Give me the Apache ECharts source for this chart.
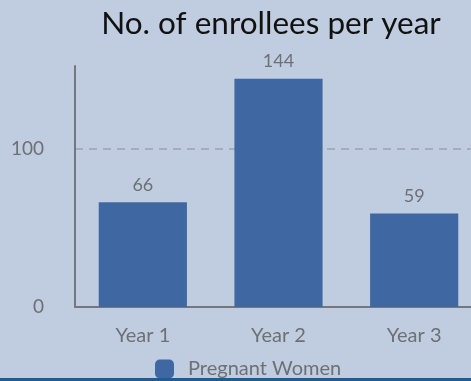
<!DOCTYPE html>
<html><head><meta charset="utf-8">
<style>html,body{margin:0;padding:0;background:#c0cde0;}#c{width:471px;height:381px;}</style>
<script src="https://cdn.jsdelivr.net/npm/echarts@6/dist/echarts.min.js"></script>
</head><body><div id="c"></div>
<script>
const categories = ['Year 1', 'Year 2', 'Year 3'];
const pregnantWomen = [66, 144, 59];
const seriesName = 'Pregnant Women';
const titleText = 'No. of enrollees per year';

const chart = echarts.init(document.getElementById('c'), null, {renderer: 'canvas'});
const gray = '#6d7074';
chart.setOption({
  backgroundColor: '#c0cde0',
  animation: false,
  textStyle: {fontFamily: 'Lato'},
  title: {
    text: titleText, left: 266, top: 3, textAlign: 'center',
    textStyle: {fontFamily: 'Lato', fontSize: 31.5, fontWeight: 'normal', color: '#111'}
  },
  legend: {
    data: [seriesName], left: 155, top: 359, itemWidth: 19, itemHeight: 19, itemGap: 10,
    padding: 0, icon: 'roundRect',
    formatter: function (n) { return '{s| }{t|' + n + '}'; },
    textStyle: {fontFamily: 'Lato', fontSize: 20, color: gray,
      rich: {s: {width: 9, fontSize: 20}, t: {fontFamily: 'Lato', fontSize: 20, color: gray}}}
  },
  grid: {left: 75, width: 407, top: 66, bottom: 74, containLabel: false, outerBoundsMode: 'none'},
  xAxis: {
    type: 'category', data: categories,
    axisLine: {lineStyle: {color: '#74787c', width: 2}},
    axisTick: {show: false},
    axisLabel: {fontFamily: 'Lato', fontSize: 20, color: gray, margin: 19}
  },
  yAxis: {
    type: 'value', min: 0, max: 152, interval: 100,
    axisLine: {show: true, lineStyle: {color: '#74787c', width: 2}},
    axisTick: {show: false},
    axisLabel: {fontFamily: 'Lato', fontSize: 19, color: gray, margin: 31, showMaxLabel: false},
    splitLine: {show: true, lineStyle: {color: ['rgba(0,0,0,0)', '#9aa2ad', 'rgba(0,0,0,0)'], type: [8, 6], width: 1.5}}
  },
  series: [{
    name: seriesName, type: 'bar', data: pregnantWomen, barWidth: '65%',
    itemStyle: {color: '#3f68a3'},
    label: {show: true, position: 'top', distance: 8, fontFamily: 'Lato', fontSize: 18, color: gray}
  }],
  graphic: [{type: 'rect', shape: {x: 0, y: 378, width: 471, height: 3}, style: {fill: '#1f5c91'}, z: 100}]
});
</script></body></html>
